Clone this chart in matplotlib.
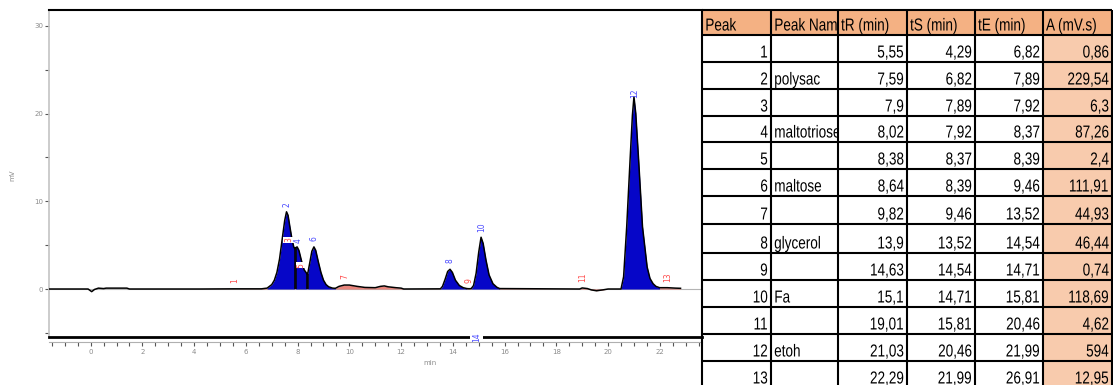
import numpy as np
import matplotlib
matplotlib.use('Agg')
import matplotlib.pyplot as plt
from matplotlib.patches import Rectangle
from matplotlib.transforms import Bbox, TransformedBbox, Affine2D
from matplotlib.patheffects import AbstractPathEffect

# peak table
peak_no = [1, 2, 3, 4, 5, 6, 7, 8, 9, 10, 11, 12, 13]
peak_name = ['', 'polysac', '', 'maltotriose', '', 'maltose', '', 'glycerol', '', 'Fa', '', 'etoh', '']
t_R = [5.55, 7.59, 7.9, 8.02, 8.38, 8.64, 9.82, 13.9, 14.63, 15.1, 19.01, 21.03, 22.29]
t_S = [4.29, 6.82, 7.89, 7.92, 8.37, 8.39, 9.46, 13.52, 14.54, 14.71, 15.81, 20.46, 21.99]
t_E = [6.82, 7.89, 7.92, 8.37, 8.39, 9.46, 13.52, 14.54, 14.71, 15.81, 20.46, 21.99, 26.91]
area = [0.86, 229.54, 6.3, 87.26, 2.4, 111.91, 44.93, 46.44, 0.74, 118.69, 4.62, 594, 12.95]
main_peaks = [2, 4, 6, 8, 10, 12]
headers = ['Peak', 'Peak Name', 'tR (min)', 'tS (min)', 'tE (min)', 'A (mV.s)']

# detector trace (min, mV)
trace_t = [-1.62, -0.1, 0.04, 0.15, 0.3, 0.5, 0.6, 1.4, 1.5, 4.29, 5.55, 6.6, 6.82,
           7.0, 7.1, 7.2, 7.3, 7.4, 7.5, 7.57, 7.63, 7.7, 7.78, 7.85, 7.89, 7.92,
           7.98, 8.05, 8.15, 8.25, 8.37, 8.39, 8.47, 8.55, 8.63, 8.7, 8.8, 8.9, 9.0,
           9.1, 9.2, 9.35, 9.46, 9.6, 9.8, 10.0, 10.3, 10.6, 11.0, 11.2, 11.35, 11.5,
           11.8, 12.0, 12.1, 13.52, 13.6, 13.7, 13.8, 13.89, 13.98, 14.1, 14.25, 14.4,
           14.54, 14.63, 14.71, 14.8, 14.9, 15.0, 15.09, 15.17, 15.28, 15.4, 15.55,
           15.7, 15.81, 18.9, 19.0, 19.2, 19.35, 19.55, 19.8, 20.0, 20.46, 20.5, 20.6,
           20.72, 20.85, 20.94, 21.0, 21.07, 21.18, 21.33, 21.51, 21.62, 21.74, 21.85,
           21.99, 22.29, 22.6, 22.8]
trace_mv = [0.0, 0.0, -0.3, -0.05, 0.1, 0.05, 0.1, 0.1, 0.0, 0.0, 0.02, 0.02, 0.1,
            0.5, 1.0, 1.9, 3.4, 5.6, 7.8, 8.8, 8.4, 7.1, 5.7, 4.8, 4.6, 4.7,
            4.8, 4.4, 3.2, 2.2, 1.7, 1.75, 3.0, 4.3, 4.8, 4.4, 3.1, 1.9, 1.0,
            0.5, 0.25, 0.1, 0.08, 0.3, 0.45, 0.45, 0.3, 0.18, 0.15, 0.3, 0.35, 0.25,
            0.15, 0.1, 0.0, 0.02, 0.3, 1.1, 2.0, 2.25, 1.9, 1.0, 0.4, 0.15,
            0.05, 0.03, 0.05, 0.4, 1.8, 4.2, 5.9, 5.2, 3.3, 1.6, 0.6,
            0.2, 0.05, 0.0, 0.12, 0.05, -0.1, -0.2, -0.1, 0.0, 0.0, 0.0, 1.4,
            7.1, 14.7, 19.8, 21.9, 20.0, 14.7, 7.1, 2.5, 1.2, 0.6, 0.3,
            0.15, 0.15, 0.1, 0.08]

W, H = 1113, 385
fig = plt.figure(figsize=(W / 100, H / 100), dpi=100)


def box(x0, y0, x1, y1):
    # pixel box (top-left origin) -> figure fraction
    return [x0 / W, 1 - y1 / H, (x1 - x0) / W, (y1 - y0) / H]


class Squeeze(AbstractPathEffect):
    # narrow the glyphs horizontally (spreadsheet font looks condensed)
    def __init__(self, sx, anchor):
        super().__init__()
        self.sx = sx
        self.anchor = anchor

    def draw_path(self, renderer, gc, tpath, affine, rgbFace=None):
        ext = tpath.get_extents(affine)
        x0 = ext.x1 if self.anchor == 'right' else ext.x0
        aff = affine + Affine2D().translate(-x0, 0).scale(self.sx, 1).translate(x0, 0)
        renderer.draw_path(gc, tpath, aff, rgbFace)


blue = '#0606c8'
salmon = '#e8857c'
grey = '#8c8c8c'

ax = fig.add_axes(box(49, 10, 702, 337))
t = np.array(trace_t)
mv = np.array(trace_mv)

ax.axhline(0, color='#b4b4b4', lw=0.8, zorder=1)
for i, n in enumerate(peak_no):
    seg = (t >= t_S[i]) & (t <= t_E[i])
    col = blue if n in main_peaks else salmon
    ax.fill_between(t, mv, 0, where=seg, color=col, lw=0, zorder=2)
ax.plot(t, mv, '-', color='black', lw=1.1, zorder=3)

# drop lines between overlapping peaks
for ts in t_S:
    h = np.interp(ts, t, mv)
    if h > 0.5:
        ax.vlines(ts, 0, h, color='black', lw=1.1, zorder=3)

# peak numbers
for i, n in enumerate(peak_no):
    h = max(np.interp(t_R[i], t, mv), 0)
    col = '#4a4aff' if n in main_peaks else '#ff4a4a'
    kw = {}
    xl = t_R[i]
    if n in (3, 5):
        kw['bbox'] = dict(boxstyle='square,pad=0.1', fc='white', ec='none')
        xl = t_R[i] - 0.25
    ax.text(xl, h + 0.7, str(n), rotation=90, fontsize=5.5, color=col,
            ha='center', va='bottom', zorder=4, **kw)
ax.text(14.92, -5.47, '14', rotation=90, fontsize=5.5, color='#4a4aff', ha='center',
        va='center', zorder=5, bbox=dict(boxstyle='square,pad=0.3', fc='white', ec='none'))

ax.set_xlim(-1.61, 23.63)
ax.set_ylim(-5.47, 31.8)
ax.spines['right'].set_visible(False)
ax.spines['top'].set_linewidth(1.5)
ax.spines['bottom'].set_linewidth(2)
ax.spines['left'].set_color('#c4c4c4')
ax.spines['left'].set_linewidth(1.2)
ax.set_xticks([])
ax.set_yticks([0, 10, 20, 30])
ax.set_yticks([-5, 5, 15, 25], minor=True)
ax.tick_params(axis='y', which='both', direction='out', length=3, width=0.8,
               color='#555555', labelsize=5, labelcolor=grey, pad=1)

# time axis sits on its own thin line below the frame
axx = fig.add_axes(box(49, 341, 702, 341.5))
axx.set_xlim(-1.61, 23.63)
axx.set_yticks([])
for s in ['top', 'left', 'right']:
    axx.spines[s].set_visible(False)
axx.spines['bottom'].set_color('#b0b0b0')
axx.spines['bottom'].set_linewidth(0.8)
axx.set_xticks(np.arange(0, 24, 2))
axx.set_xticks(np.arange(-1.5, 23.6, 0.5), minor=True)
axx.tick_params(axis='x', which='both', direction='out', length=3, width=0.8,
                color='#555555', labelsize=5, labelcolor=grey, pad=2.5)
axx.patch.set_visible(False)

fig.text(430 / W, 1 - 363 / H, 'min', fontsize=5, color=grey, ha='center', va='center')
fig.text(12 / W, 1 - 175 / H, 'mV', fontsize=5, color=grey, rotation=90, ha='center', va='center')

# spreadsheet table
tax = fig.add_axes([0, 0, 1, 1])
tax.set_xlim(0, W)
tax.set_ylim(H, 0)
tax.axis('off')
col_x = [702, 771, 838, 907, 975, 1043, 1112]
row_y = [10, 35, 62, 89, 116, 142, 169, 196, 224, 253, 280, 307, 334, 361, 388]
font = ['Liberation Sans', 'DejaVu Sans']
fs = 12.5
sx = 0.78

for j in range(6):
    tax.add_patch(Rectangle((col_x[j], row_y[0]), col_x[j + 1] - col_x[j], row_y[1] - row_y[0],
                            fc='#f4b183', ec='none'))
for r in range(len(peak_no)):
    tax.add_patch(Rectangle((col_x[5], row_y[r + 1]), col_x[6] - col_x[5], row_y[r + 2] - row_y[r + 1],
                            fc='#f8cbad', ec='none'))
for x in col_x:
    tax.plot([x, x], [row_y[0], row_y[-1]], color='black', lw=1.5, solid_capstyle='butt')
for y in row_y:
    tax.plot([col_x[0], col_x[-1]], [y, y], color='black', lw=1.5, solid_capstyle='butt')


def cell_text(txt, j, r, align):
    x0, x1 = col_x[j], col_x[j + 1]
    yb = row_y[r + 1] - 4.5
    if align == 'left':
        tt = tax.text(x0 + 3, yb, txt, ha='left', va='baseline', fontsize=fs, family=font)
    else:
        tt = tax.text(x1 - 3, yb, txt, ha='right', va='baseline', fontsize=fs, family=font)
    tt.set_path_effects([Squeeze(sx, align)])
    bb = Bbox.from_extents(x0 + 1, row_y[r], x1 - 1, row_y[r + 1])
    tt.set_clip_box(TransformedBbox(bb, tax.transData))
    tt.set_clip_on(True)


def fmt(v):
    return f'{v:g}'.replace('.', ',')


for j, hname in enumerate(headers):
    cell_text(hname, j, 0, 'left')
for r in range(len(peak_no)):
    cell_text(str(peak_no[r]), 0, r + 1, 'right')
    if peak_name[r]:
        cell_text(peak_name[r], 1, r + 1, 'left')
    cell_text(fmt(t_R[r]), 2, r + 1, 'right')
    cell_text(fmt(t_S[r]), 3, r + 1, 'right')
    cell_text(fmt(t_E[r]), 4, r + 1, 'right')
    cell_text(fmt(area[r]), 5, r + 1, 'right')

plt.savefig('out.png', dpi=100)
